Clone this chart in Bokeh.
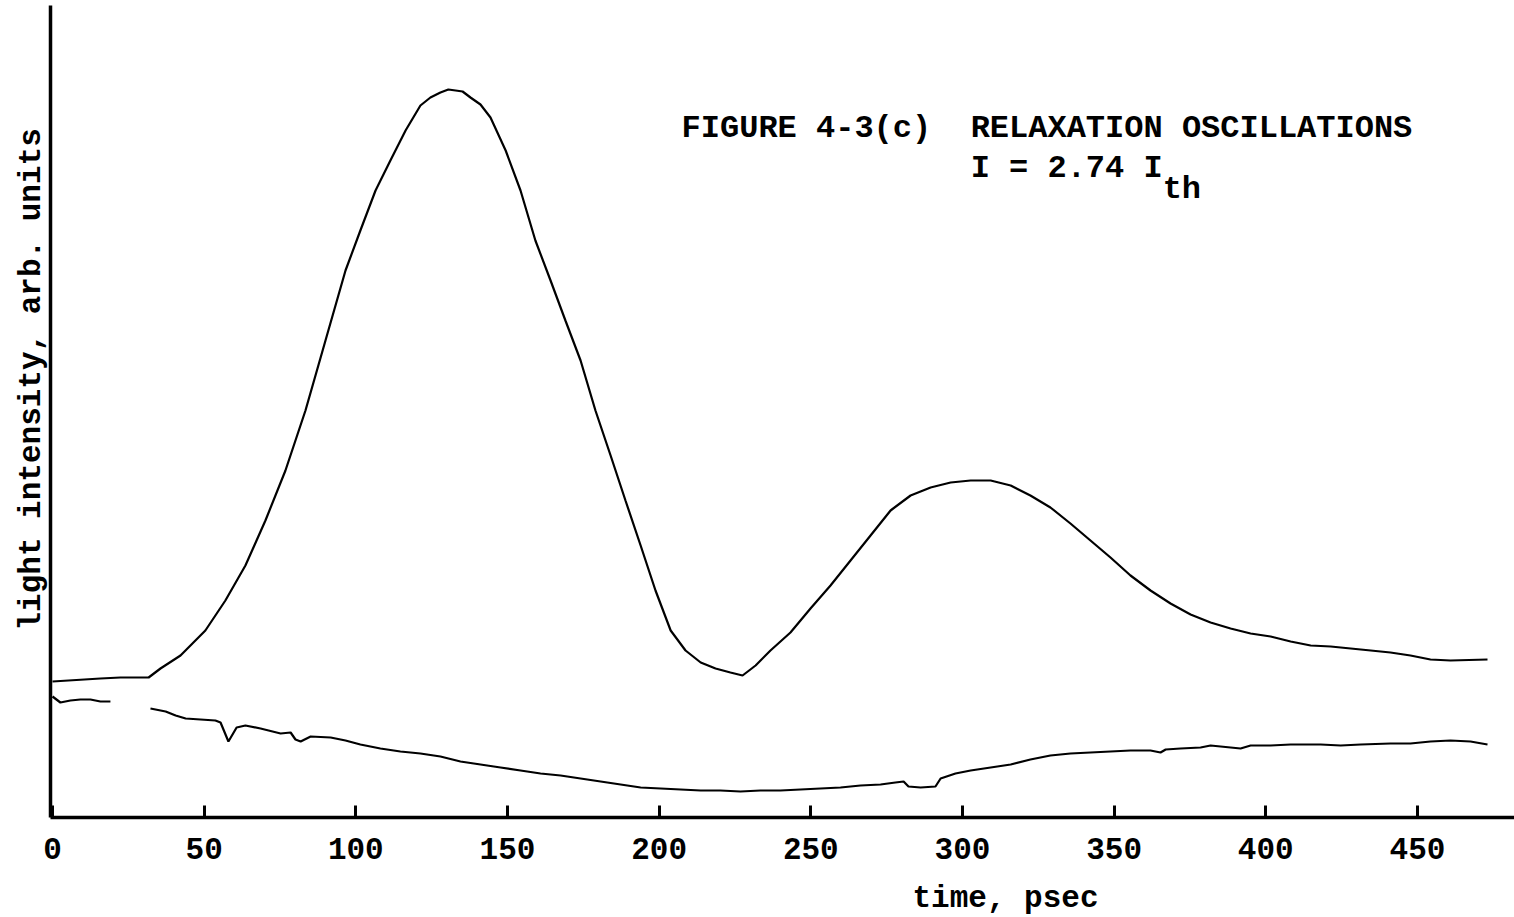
import math
from bokeh.plotting import figure
from bokeh.models import Range1d, FixedTicker, Label, ColumnDataSource, Title
from bokeh.embed import file_html
from bokeh.resources import INLINE

# ---- data (time in psec, intensity in arbitrary units) ----
upper_t = [0, 15.8, 22.4, 31.7, 35.6, 42.2, 50.4, 57.0, 63.6, 70.2, 76.8, 83.4, 90.0, 96.6,
           101.5, 106.5, 111.4, 116.4, 121.3, 124.6, 127.9, 130.5, 132.9, 135.2, 137.8,
           141.1, 144.4, 149.4,
           154.3, 159.2, 164.2, 169.1, 174.1, 179.0, 184.0, 188.9, 193.9, 198.8, 203.8,
           208.7, 213.7, 218.6, 223.5, 227.5, 231.8, 236.7, 243.3, 249.9, 256.5, 263.1,
           269.7, 276.3, 282.9, 289.5, 296.1, 302.7, 309.3, 315.9, 322.4, 329.0, 335.6,
           342.2, 348.8, 355.4, 362.0, 368.6, 375.2, 381.8, 388.4, 395.0, 401.6, 408.2,
           414.8, 421.4, 428.0, 434.6, 441.1, 447.7, 454.3, 460.9, 473.1]
upper_v = [136, 139, 140, 140, 149, 162, 187, 217, 252, 297, 347, 407, 477, 547,
           587, 627, 657, 687, 712, 720, 725, 728, 727, 726, 720,
           713, 700, 667,
           627, 577, 537, 497, 457, 407, 362, 317, 272, 227, 187,
           167, 155, 149, 145, 142, 152, 167, 185, 209, 232, 257,
           282, 307, 322, 330, 335, 337, 337, 332, 322, 310, 294,
           277, 260, 242, 227, 214, 203, 195, 189, 184, 181, 176,
           172, 171, 169, 167, 165, 162, 158, 157, 158]

lower_t = [0, 2.6, 5.9, 9.2, 12.5, 15.8, 19.1, float("nan"), 32.3, 37.3, 40.6, 43.9,
           48.8, 53.7, 55.4, 58.0, 60.7, 63.6, 68.6, 75.2, 78.5, 80.1, 81.8, 85.1,
           91.7, 96.6, 101.5, 108.1, 114.7, 121.3, 127.9, 134.5, 141.1, 147.7, 154.3,
           160.9, 167.5, 174.1, 180.7, 187.3, 193.9, 200.5, 207.1, 213.7, 220.2, 226.8,
           233.4, 240.0, 246.6, 253.2, 259.8, 266.4, 273.0, 277.9, 280.6, 282.2, 286.2,
           291.1, 292.8, 297.7, 302.7, 309.3, 315.9, 322.4, 329.0, 335.6, 342.2, 348.8,
           355.4, 362.0, 365.3, 367.0, 371.9, 378.5, 381.8, 388.4, 391.7, 395.0, 401.6,
           408.2, 418.1, 424.7, 431.3, 441.1, 447.7, 454.3, 460.9, 467.5, 473.1]
lower_v = [121, 115, 117, 118, 118, 116, 116, float("nan"), 109, 106, 102, 99,
           98, 97, 95, 76, 90, 92, 89, 84, 85, 78, 76, 81,
           80, 77, 73, 69, 66, 64, 61, 56, 53, 50, 47,
           44, 42, 39, 36, 33, 30, 29, 28, 27, 27, 26,
           27, 27, 28, 29, 30, 32, 33, 35, 36, 31, 30,
           31, 39, 44, 47, 50, 53, 58, 62, 64, 65, 66,
           67, 67, 65, 68, 69, 70, 72, 70, 69, 72, 72,
           73, 73, 72, 73, 74, 74, 76, 77, 76, 73]

x_ticks = [0, 50, 100, 150, 200, 250, 300, 350, 400, 450]

fig_text = "FIGURE 4-3(c)"
title_text = "RELAXATION OSCILLATIONS"
current_text = "I = 2.74 I"
current_sub = "th"
x_label = "time, psec"
y_label = "light intensity, arb. units"

FONT = "Liberation Mono"

p = figure(width=1514, height=917, output_backend="svg", toolbar_location=None,
           x_range=Range1d(-0.66, 482.0), y_range=Range1d(0, 812),
           min_border_left=50, min_border_right=0, min_border_top=5, min_border_bottom=100)
p.background_fill_color = "white"
p.border_fill_color = "white"
p.outline_line_color = None
p.grid.visible = False

src_u = ColumnDataSource(dict(t=upper_t, v=upper_v))
src_l = ColumnDataSource(dict(t=lower_t, v=lower_v))
p.line("t", "v", source=src_u, line_color="black", line_width=2.2)
p.line("t", "v", source=src_l, line_color="black", line_width=2.2)

xa = p.xaxis[0]
xa.ticker = FixedTicker(ticks=x_ticks)
xa.axis_line_width = 3.5
xa.axis_line_color = "black"
xa.major_tick_in = 12
xa.major_tick_out = 0
xa.major_tick_line_width = 3
xa.major_tick_line_color = "black"
xa.minor_tick_line_color = None
xa.major_label_standoff = 20
xa.major_label_text_font = FONT
xa.major_label_text_font_style = "bold"
xa.major_label_text_font_size = "31px"
xa.major_label_text_color = "black"

ya = p.yaxis[0]
ya.ticker = FixedTicker(ticks=[])
ya.axis_line_width = 3.5
ya.axis_line_color = "black"
ya.major_tick_in = 0
ya.major_tick_out = 0
ya.major_label_standoff = 0
ya.major_tick_line_color = None
ya.minor_tick_line_color = None
ya.major_label_text_font_size = "0px"

# thin spacer between the tick labels and the x-axis title
p.add_layout(Title(text=" ", standoff=16, text_font_size="1px", text_color="white"), "below")
p.add_layout(Title(text=x_label, align="left", offset=862, standoff=0,
                   vertical_align="top",
                   text_font=FONT, text_font_style="bold", text_font_size="31px",
                   text_color="black"), "below")
p.add_layout(Title(text=y_label, align="left", offset=187, standoff=4,
                   text_font=FONT, text_font_style="bold", text_font_size="31px",
                   text_color="black"), "left")

def add_label(x, y, text):
    p.add_layout(Label(x=x, y=y, text=text, text_align="left",
                       text_baseline="middle", text_font=FONT, text_font_style="bold",
                       text_font_size="32px", text_color="black"))

add_label(207.4, 689, fig_text)
add_label(302.7, 689, title_text)
add_label(302.7, 649, current_text)
add_label(366.0, 628, current_sub)

open("out.html", "w").write(file_html(p, INLINE))
